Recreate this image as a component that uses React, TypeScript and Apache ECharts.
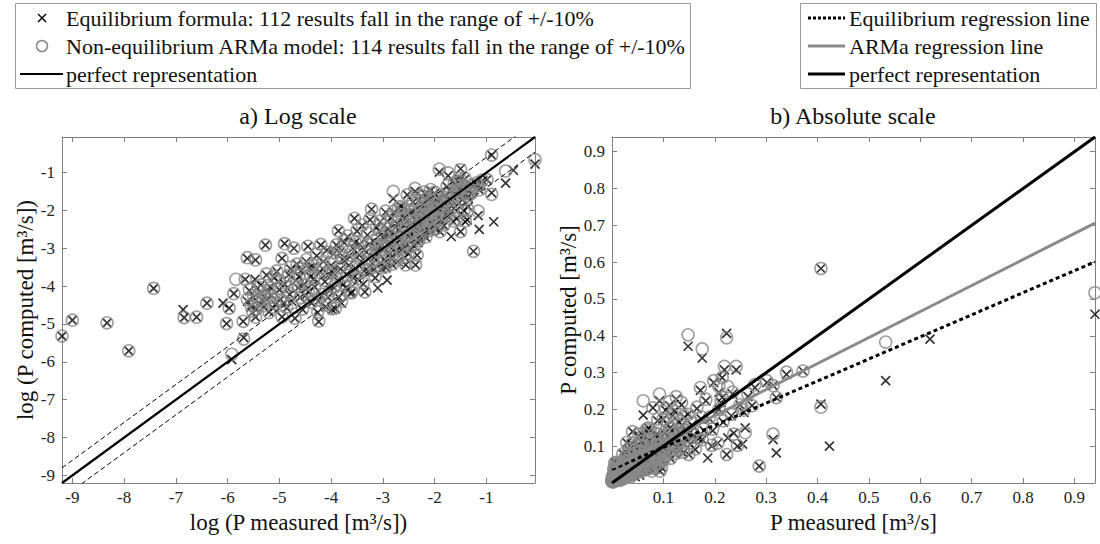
import React, { useEffect, useRef } from "react";
import * as echarts from "echarts";

// Natural log of the measured sediment discharge P [m3/s]
const measuredLog = [
  // scattered low-discharge points
  -9.2, -9.0, -8.33, -7.91, -7.43, -6.86, -6.84, -6.6, -6.4, -6.09, -6.02, -5.97, -5.92, -5.88, -5.84,
  -5.7, -5.69, -5.66, -5.62, -5.46, -5.47, -5.46, -5.36, -5.27, -5.25,
  // main cloud, lower part
  -5.62, -5.55, -5.5, -5.45, -5.4, -5.35, -5.3, -5.25, -5.2, -5.18, -5.15, -5.1, -5.08, -5.05, -5.0,
  -4.98, -4.95, -4.95, -4.9, -4.9, -4.86, -4.82, -4.8, -4.76, -4.72, -4.7, -4.68, -4.66, -4.64, -4.6,
  -4.58, -4.55, -4.52, -4.48, -4.45, -4.44, -4.4, -4.38,
  // main cloud, centre
  -4.35, -4.32, -4.28, -4.26, -4.24, -4.22, -4.2, -4.18, -4.15, -4.12,
  -4.1, -4.08, -4.05, -4.02, -4.0, -3.98, -3.95, -3.92, -3.9, -3.88,
  -3.86, -3.85, -3.82, -3.8, -3.78, -3.75, -3.72, -3.7, -3.68, -3.65,
  -3.62, -3.6, -3.58, -3.55, -3.52, -3.5, -3.48, -3.45, -3.42, -3.4,
  -3.38, -3.35, -3.32, -3.3, -3.28, -3.25, -3.22, -3.2, -3.18, -3.15,
  -3.12, -3.1, -3.08, -3.05, -3.02, -3.0,
  // upper part of the cloud
  -2.98, -2.95, -2.92, -2.9, -2.88, -2.85, -2.82, -2.8, -2.78, -2.75,
  -2.72, -2.7, -2.68, -2.65, -2.62, -2.6, -2.58, -2.56, -2.55, -2.53,
  -2.5, -2.48, -2.46, -2.44, -2.42, -2.4, -2.38, -2.37, -2.35, -2.34,
  -2.32, -2.31, -2.3,
  // 0.1 - 0.2 m3/s
  -2.28, -2.26, -2.24, -2.22, -2.2, -2.19, -2.18, -2.16, -2.14, -2.12,
  -2.11, -2.1, -2.08, -2.06, -2.04, -2.02, -2.0, -1.98, -1.96, -1.94,
  -1.91, -1.91, -1.9, -1.88, -1.86, -1.83, -1.82, -1.8, -1.78, -1.76,
  -1.74, -1.74, -1.72, -1.7, -1.68, -1.66, -1.64, -1.62,
  // largest discharges
  -1.58, -1.57, -1.57, -1.55, -1.54, -1.54, -1.52, -1.5, -1.5, -1.49,
  -1.49, -1.46, -1.44, -1.41, -1.39, -1.37, -1.35, -1.33, -1.3, -1.25,
  -1.2, -1.16, -1.14, -1.14, -1.16, -1.08, -0.99, -0.9, -0.9, -0.86,
  -0.63, -0.48, -0.062,
  // further points inside the dense band
  -5.58, -5.52, -5.42, -5.33, -5.22, -5.12, -5.02, -4.92, -4.85, -4.78,
  -4.62, -4.5, -4.42, -4.33, -4.25, -4.16, -4.06, -3.96, -3.94, -3.84,
  -3.76, -3.66, -3.57, -3.54, -3.46, -3.36, -3.27, -3.17, -3.07, -3.04,
  -2.96, -2.86, -2.76, -2.66, -2.57, -2.47, -2.41, -2.33, -2.25, -2.15,
  -2.07, -1.99, -1.85, -1.75, -1.63, -1.53, -1.45, -1.42, -1.36, -1.28,
  // lower edge of the band between 0.04 and 0.15 m3/s
  -3.18, -3.14, -3.06, -2.99, -2.94, -2.91, -2.87, -2.83, -2.79, -2.74,
  -2.71, -2.67, -2.63, -2.59, -2.54, -2.51, -2.45, -2.43, -2.39, -2.36,
  -2.29, -2.27, -2.23, -2.17, -2.13, -2.09, -2.05, -2.01, -1.97, -1.93,
];

// Natural log of P computed with the equilibrium formula (null: no marker)
const equilibriumLog = [
  -5.32, -4.9, -4.97, -5.71, -4.06, -4.62, -4.83, -4.82, -4.45, -4.45, -4.99, -4.58, -5.94, -4.2, null,
  -4.93, -5.36, -3.82, -3.27, -3.31, -3.82, -4.82, -3.97, -2.92, -3.71,

  -4.4, -4.55, -4.3, -4.62, -4.45, -4.2, -4.55, -4.35, -4.68, -4.02, -4.25, -3.78, -4.48, -3.62, -4.1,
  -4.35, -4.81, -3.27, -2.88, -3.95, -4.58, -3.7, -4.22, -4.4, -3.0, -4.85, -3.85, -3.42, -4.05, -4.3,
  -3.6, -4.62, -3.95, -3.35, -2.95, -4.15, -3.75, -4.45,

  -3.5, -4.02, -3.2, -4.7, -4.94, -3.62, -2.92, -4.25, -3.35, -3.88,
  -4.55, -3.05, -3.7, -4.1, -3.45, -4.62, -3.15, -4.6, -2.92, -3.85,
  -2.54, -4.3, -3.55, -4.45, -3.3, -2.85, -4.05, -3.68, -2.7, -3.2,
  -4.2, -4.15, -3.0, -2.21, -3.55, -2.55, -3.82, -2.9, -3.35, -2.4,
  -3.95, -4.15, -3.1, -2.65, -3.62, -2.25, -1.97, -3.4, -2.82, -3.78,
  -2.45, -4.05, -3.15, -2.3, -3.55, -2.7,

  -3.3, -2.05, -3.84, -2.5, -2.95, -2.2, -3.44, -1.69, -2.62, -3.1,
  -2.35, -1.95, -2.8, -1.9, -2.15, -1.94, -3.25, -3.44, -2.48, -1.59,
  -2.7, -2.05, -3.0, -2.32, -1.78, -2.58, -1.5, -3.44, -2.25, -3.18,
  -2.85, -1.75, -2.52,

  -2.0, -1.62, -2.35, -1.85, -2.6, -1.56, -1.9, -2.15, -1.7, -2.42,
  -1.63, -2.05, -1.48, -2.28, -1.8, -2.0, -1.55, -2.5, -1.72, -2.1,
  -0.99, -1.68, -2.56, -2.25, -1.85, -1.9, -2.4, -1.6, -2.12, -1.38,
  -1.08, -2.14, -1.95, -1.5, -2.69, -1.75, -2.3, -1.3,

  -2.22, -1.4, -1.61, -1.52, -1.25, -1.46, -1.18, -0.9, -2.56, -2.1,
  null, -1.7, -2.0, -2.3, -1.55, -2.25, -1.9, -1.45, -1.56, -3.08,
  -1.3, -2.14, -2.5, -1.46, -1.33, -1.22, -1.19, -0.54, -1.54, -2.3,
  -1.28, -0.94, -0.78,

  -4.12, -4.7, -4.05, -4.38, -4.15, -4.58, -3.88, -4.45, -4.05, -3.55,
  -3.75, -4.25, -3.52, -3.8, -4.4, -3.55, -4.3, -3.65, -4.05, -3.12,
  -3.95, -3.45, -3.78, -2.85, -3.18, -3.6, -2.9, -3.25, -2.55, -2.95,
  -2.72, -3.15, -2.45, -2.95, -2.25, -2.62, -2.05, -2.4, -2.15, -1.95,
  -2.35, -1.85, -2.05, -1.75, -1.95, -1.8, -1.42, -1.18, -1.65, -1.35,

  -3.55, -2.98, -3.4, -3.05, -3.52, -2.3, -2.68, -3.28, -2.05, -2.85,
  -3.35, -2.52, -3.05, -2.38, -2.88, -3.15, -2.75, -2.18, -2.95, -2.62,
  -2.78, -2.3, -2.48, -2.72, -2.22, -2.55, -2.1, -2.38, -2.22, -1.98,
];

// Natural log of P computed with the non-equilibrium ARMa model (null: no marker)
const armaLog = [
  -5.32, -4.9, -4.97, -5.71, -4.06, null, -4.83, -4.82, -4.45, null, -4.99, -4.58, -5.8, -4.2, -3.82,
  -4.93, -5.4, -3.82, -3.25, -3.31, null, -4.82, -3.97, -2.92, -3.68,

  -4.35, -4.5, -4.25, -4.6, -4.4, -4.15, -4.52, -4.3, -4.7, -4.05, -4.3, -3.75, -4.45, -3.6, -4.05,
  -4.38, -4.81, -3.27, -2.88, -3.9, -4.55, -3.72, -4.2, -4.45, -3.0, -4.85, -3.8, -3.42, -4.0, -4.32,
  -3.55, -4.6, -3.98, -3.3, -2.95, -4.1, -3.7, -4.42,

  -3.45, -4.05, -3.15, -4.68, -4.92, -3.65, -2.9, -4.22, -3.35, -3.85,
  -4.5, -3.1, -3.66, -4.12, -3.4, -4.6, -3.13, -4.58, -2.91, -3.8,
  -2.54, -4.28, -3.5, -4.4, -3.25, -2.8, -4.0, -3.72, -2.68, -3.18,
  -4.18, -4.15, -3.05, -2.21, -3.5, -2.52, -3.8, -2.85, -3.3, -2.38,
  -3.92, -4.15, -3.08, -2.6, -3.58, -2.22, -1.97, -3.35, -2.8, -3.75,
  -2.42, null, -3.1, -2.28, -3.52, -2.65,

  -3.25, -2.02, null, -2.45, -2.9, -2.18, -3.42, -1.5, -2.6, -3.05,
  -2.3, -1.92, -2.75, -1.9, -2.12, -1.94, -3.22, -3.44, -2.45, -1.59,
  -2.65, -2.0, -2.95, -2.28, -1.75, -2.55, -1.42, -3.44, -2.25, -3.18,
  -2.8, -1.75, -2.52,

  -1.98, -1.6, -2.3, -1.82, -2.55, -1.51, -1.9, -2.12, -1.68, -2.4,
  -1.63, -2.0, -1.45, -2.25, -1.78, -1.95, -1.52, -2.48, -1.7, -2.08,
  -0.91, -1.68, -2.56, -2.22, -1.8, null, -2.38, -1.58, -2.12, -1.35,
  -1.01, -2.14, -1.92, -1.48, null, -1.72, -2.28, -1.28,

  -2.22, -1.34, -1.61, -1.5, -1.25, -1.46, -1.15, -0.93, -2.56, null,
  -1.34, -1.68, -2.02, -2.28, -1.55, null, -1.99, -1.42, -1.56, -3.08,
  -1.28, -2.02, null, -1.46, -1.33, -1.2, -1.19, -0.54, -1.58, null,
  -0.96, null, -0.66,

  -4.08, -4.66, -4.02, -4.35, -4.12, -4.55, -3.85, -4.4, -4.02, -3.5,
  -3.72, -4.22, -3.48, -3.78, -4.36, -3.5, -4.28, -3.62, -4.0, -3.08,
  -3.92, -3.4, -3.75, -2.82, -3.15, -3.55, -2.88, -3.22, -2.52, -2.92,
  -2.7, -3.12, -2.42, -2.92, -2.22, -2.6, -2.02, -2.38, -2.12, -1.92,
  -2.32, -1.82, -2.02, -1.72, -1.92, -1.78, -1.4, -1.15, -1.62, -1.32,

  -3.5, -2.95, -3.36, -3.02, -3.48, -2.28, -2.65, -3.25, -2.02, -2.8,
  -3.3, -2.5, -3.02, -2.35, -2.85, -3.12, -2.72, -2.15, -2.92, -2.6,
  -2.75, -2.28, -2.45, -2.7, -2.2, -2.52, -2.08, -2.35, -2.2, -1.95,
];

const logTicks = [-9, -8, -7, -6, -5, -4, -3, -2, -1];
const absTicks = [0.1, 0.2, 0.3, 0.4, 0.5, 0.6, 0.7, 0.8, 0.9];
const logRange = [-9.2, -0.062];
const absRange = [0, 0.94];
const logBand = [0.4, -0.4]; // offsets of the dashed band around the 1:1 line
const equilibriumFit = [0.6, 0.037]; // slope, intercept
const armaFit = [0.7065, 0.042]; // slope, intercept

const panelTitles = ["a) Log scale", "b) Absolute scale"];
const legendMarkers = [
  "Equilibrium formula: 112 results fall in the range of +/-10%",
  "Non-equilibrium ARMa model: 114 results fall in the range of +/-10%",
  "perfect representation",
];
const legendLines = ["Equilibrium regression line", "ARMa regression line", "perfect representation"];

const FONT = "'Liberation Serif', 'Times New Roman', Times, serif";
const FRAME = "#808080";
const GRAY = "#8a8a8a";
const CROSS = "path://M0,0L10,10M10,0L0,10";

function pairs(ys: (number | null)[], f: (v: number) => number) {
  const out: number[][] = [];
  measuredLog.forEach((x, i) => {
    const y = ys[i];
    if (y === null || y === undefined) return;
    out.push([f(x), f(y)]);
  });
  return out;
}

function axisPair(gridIndex: number, range: number[], ticks: number[], dim: "x" | "y", name: string, nameGap: number) {
  const base = {
    type: "value",
    gridIndex,
    min: range[0],
    max: range[1],
    splitLine: { show: false },
    axisLine: { show: true, onZero: false, lineStyle: { color: FRAME, width: 1 } },
    axisTick: { show: true, inside: true, length: 5, customValues: ticks, lineStyle: { color: FRAME } },
  };
  const main = {
    ...base,
    position: dim === "x" ? "bottom" : "left",
    axisLabel: {
      show: true,
      customValues: ticks,
      margin: dim === "x" ? 6 : 7,
      fontFamily: FONT,
      fontSize: 17,
      color: "#222",
    },
    name,
    nameLocation: "middle",
    nameGap,
    nameTextStyle: { fontFamily: FONT, fontSize: 23, color: "#111" },
  };
  const mirror = {
    ...base,
    position: dim === "x" ? "top" : "right",
    axisLabel: { show: false },
  };
  return [main, mirror];
}

function lineSeries(xi: number, yi: number, data: number[][], color: string, width: number, type: any) {
  return {
    type: "line",
    xAxisIndex: xi,
    yAxisIndex: yi,
    data,
    showSymbol: false,
    symbol: "none",
    silent: true,
    clip: true,
    lineStyle: { color, width, type },
  };
}

function scatterSeries(xi: number, yi: number, data: number[][], cross: boolean) {
  return {
    type: "scatter",
    xAxisIndex: xi,
    yAxisIndex: yi,
    data,
    silent: true,
    symbol: cross ? CROSS : "circle",
    symbolSize: cross ? 9 : 12,
    itemStyle: cross
      ? { color: "rgba(0,0,0,0)", borderColor: "#000", borderWidth: 1.7 }
      : { color: "rgba(0,0,0,0)", borderColor: GRAY, borderWidth: 1.6 },
  };
}

export default function App() {
  const ref = useRef<HTMLDivElement>(null);

  useEffect(() => {
    if (!ref.current) return;
    const chart = echarts.init(ref.current, undefined, { renderer: "svg" });

    const id = (v: number) => v;
    const eqLog = pairs(equilibriumLog, id);
    const armaLogPts = pairs(armaLog, id);
    const eqAbs = pairs(equilibriumLog, Math.exp);
    const armaAbs = pairs(armaLog, Math.exp);

    const [l0, l1] = logRange;
    const perfectLog = [[l0, l0], [l1, l1]];
    const bandUp = [[l0, l0 + logBand[0]], [l1, l1 + logBand[0]]];
    const bandDown = [[l0, l0 + logBand[1]], [l1, l1 + logBand[1]]];

    const [a0, a1] = absRange;
    const perfectAbs = [[a0, a0], [a1, a1]];
    const eqLine = [[a0, equilibriumFit[0] * a0 + equilibriumFit[1]], [a1, equilibriumFit[0] * a1 + equilibriumFit[1]]];
    const armaLine = [[a0, armaFit[0] * a0 + armaFit[1]], [a1, armaFit[0] * a1 + armaFit[1]]];

    const xLeft = axisPair(0, logRange, logTicks, "x", "log (P measured [m³/s])", 24);
    const yLeft = axisPair(0, logRange, logTicks, "y", "log (P computed [m³/s])", 24);
    const xRight = axisPair(1, absRange, absTicks, "x", "P measured [m³/s]", 24);
    const yRight = axisPair(1, absRange, absTicks, "y", "P computed [m³/s]", 25);

    const legendFont = `22px ${FONT}`;
    const rows = [18, 46, 74];

    const graphic: any[] = [
      // left legend box
      { type: "rect", shape: { x: 15.5, y: 3.5, width: 675, height: 85 }, style: { fill: "#fff", stroke: "#9a9a9a", lineWidth: 1 } },
      { type: "line", shape: { x1: 38, y1: rows[0] - 4, x2: 46, y2: rows[0] + 4 }, style: { stroke: "#000", lineWidth: 1.4 } },
      { type: "line", shape: { x1: 38, y1: rows[0] + 4, x2: 46, y2: rows[0] - 4 }, style: { stroke: "#000", lineWidth: 1.4 } },
      { type: "circle", shape: { cx: 42, cy: rows[1], r: 5.5 }, style: { fill: "none", stroke: GRAY, lineWidth: 1.5 } },
      { type: "line", shape: { x1: 20, y1: rows[2], x2: 63, y2: rows[2] }, style: { stroke: "#000", lineWidth: 2 } },
      ...legendMarkers.map((t, i) => ({
        type: "text",
        x: 66,
        y: rows[i],
        style: { text: t, font: legendFont, fill: "#111", align: "left", verticalAlign: "middle" },
      })),
      // right legend box
      { type: "rect", shape: { x: 800.5, y: 3.5, width: 296, height: 85 }, style: { fill: "#fff", stroke: "#9a9a9a", lineWidth: 1 } },
      { type: "line", shape: { x1: 808, y1: rows[0], x2: 845, y2: rows[0] }, style: { stroke: "#000", lineWidth: 3, lineDash: [3, 2] } },
      { type: "line", shape: { x1: 808, y1: rows[1], x2: 845, y2: rows[1] }, style: { stroke: GRAY, lineWidth: 3 } },
      { type: "line", shape: { x1: 808, y1: rows[2], x2: 845, y2: rows[2] }, style: { stroke: "#000", lineWidth: 3 } },
      ...legendLines.map((t, i) => ({
        type: "text",
        x: 849,
        y: rows[i],
        style: { text: t, font: legendFont, fill: "#111", align: "left", verticalAlign: "middle" },
      })),
      // panel titles
      {
        type: "text",
        x: 298,
        y: 116,
        style: { text: panelTitles[0], font: `24px ${FONT}`, fill: "#111", align: "center", verticalAlign: "middle" },
      },
      {
        type: "text",
        x: 853,
        y: 116,
        style: { text: panelTitles[1], font: `24px ${FONT}`, fill: "#111", align: "center", verticalAlign: "middle" },
      },
    ];

    chart.setOption({
      animation: false,
      backgroundColor: "#fff",
      grid: [
        { left: 62, top: 137, width: 473, height: 346, containLabel: false },
        { left: 612, top: 137, width: 483, height: 346, containLabel: false },
      ],
      xAxis: [...xLeft, ...xRight],
      yAxis: [...yLeft, ...yRight],
      series: [
        // a) log scale: markers, then reference lines on top
        scatterSeries(0, 0, eqLog, true),
        scatterSeries(0, 0, armaLogPts, false),
        lineSeries(0, 0, bandUp, "#000", 1, [5, 3]),
        lineSeries(0, 0, bandDown, "#000", 1, [5, 3]),
        lineSeries(0, 0, perfectLog, "#000", 2.2, "solid"),
        // b) absolute scale: regression lines beneath the markers
        lineSeries(2, 2, eqLine, "#000", 3, [4, 3]),
        lineSeries(2, 2, armaLine, GRAY, 3, "solid"),
        lineSeries(2, 2, perfectAbs, "#000", 3, "solid"),
        scatterSeries(2, 2, eqAbs, true),
        scatterSeries(2, 2, armaAbs, false),
      ],
      graphic,
    });

    return () => chart.dispose();
  }, []);

  return (
    <div
      ref={ref}
      style={{ position: "fixed", left: 0, top: 0, width: 1100, height: 544, background: "#fff" }}
    />
  );
}
